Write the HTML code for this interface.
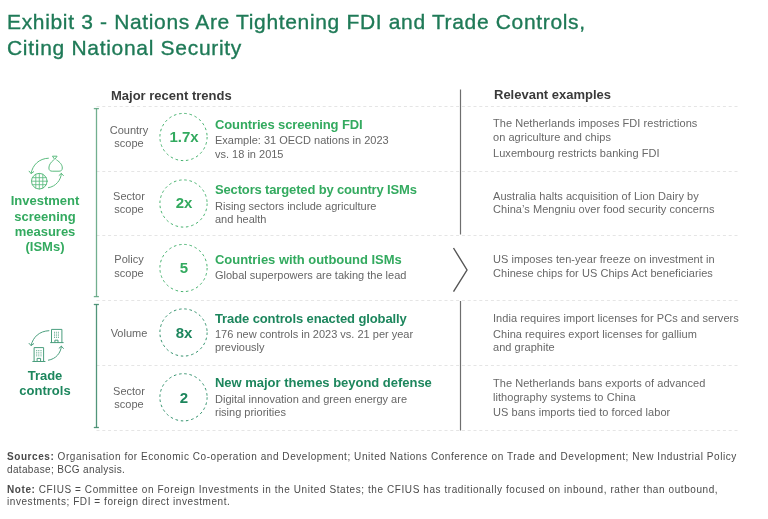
<!DOCTYPE html>
<html><head><meta charset="utf-8"><style>
html,body{margin:0;padding:0;background:#fff;}
body{width:768px;height:519px;position:relative;overflow:hidden;font-family:"Liberation Sans",sans-serif;}
.t{position:absolute;white-space:nowrap;will-change:transform;}
svg{position:absolute;left:0;top:0;}
</style></head><body>
<svg width="768" height="519" viewBox="0 0 768 519"><line x1="96.5" y1="106.5" x2="739" y2="106.5" stroke="#e5e5e5" stroke-width="1" stroke-dasharray="3 2.8"/><line x1="96.5" y1="171.5" x2="739" y2="171.5" stroke="#e5e5e5" stroke-width="1" stroke-dasharray="3 2.8"/><line x1="96.5" y1="235.5" x2="739" y2="235.5" stroke="#e5e5e5" stroke-width="1" stroke-dasharray="3 2.8"/><line x1="96.5" y1="300.5" x2="739" y2="300.5" stroke="#e5e5e5" stroke-width="1" stroke-dasharray="3 2.8"/><line x1="96.5" y1="365.5" x2="739" y2="365.5" stroke="#e5e5e5" stroke-width="1" stroke-dasharray="3 2.8"/><line x1="96.5" y1="430.5" x2="739" y2="430.5" stroke="#e5e5e5" stroke-width="1" stroke-dasharray="3 2.8"/><line x1="96.5" y1="108.5" x2="96.5" y2="296.6" stroke="#5aa27c" stroke-width="1.3" opacity="0.85"/><line x1="93.8" y1="108.6" x2="98.9" y2="108.6" stroke="#5aa27c" stroke-width="1.3" opacity="0.85"/><line x1="93.8" y1="296.6" x2="98.9" y2="296.6" stroke="#5aa27c" stroke-width="1.3" opacity="0.85"/><line x1="96.5" y1="304.5" x2="96.5" y2="427.5" stroke="#3f8a6c" stroke-width="1.3" opacity="0.9"/><line x1="93.8" y1="304.5" x2="98.9" y2="304.5" stroke="#3f8a6c" stroke-width="1.3" opacity="0.9"/><line x1="93.8" y1="427.5" x2="98.9" y2="427.5" stroke="#3f8a6c" stroke-width="1.3" opacity="0.9"/><line x1="460.5" y1="89.5" x2="460.5" y2="234.5" stroke="#6e6e6e" stroke-width="1.2"/><line x1="460.5" y1="301" x2="460.5" y2="430.5" stroke="#6e6e6e" stroke-width="1.2"/><polyline points="453.5,248 467,270 453.5,291.7" fill="none" stroke="#555" stroke-width="1.4"/><circle cx="183.5" cy="137" r="23.6" fill="none" stroke="#33aa5f" stroke-width="1" stroke-dasharray="2.5 2.8" opacity="0.9"/><circle cx="183.5" cy="203.5" r="23.6" fill="none" stroke="#33aa5f" stroke-width="1" stroke-dasharray="2.5 2.8" opacity="0.9"/><circle cx="183.5" cy="268" r="23.6" fill="none" stroke="#33aa5f" stroke-width="1" stroke-dasharray="2.5 2.8" opacity="0.9"/><circle cx="183.5" cy="332.5" r="23.6" fill="none" stroke="#1d865d" stroke-width="1" stroke-dasharray="2.5 2.8" opacity="0.9"/><circle cx="183.5" cy="397.3" r="23.6" fill="none" stroke="#1d865d" stroke-width="1" stroke-dasharray="2.5 2.8" opacity="0.9"/><g fill="none" stroke="#33aa5f" stroke-width="1" stroke-linecap="round" stroke-linejoin="round" opacity="0.8">
<circle cx="39.3" cy="181.2" r="7.8"/>
<path d="M35.8,174.2 V188.2 M39.3,173.4 V189 M42.8,174.2 V188.2 M32.3,177.7 H46.3 M31.5,181.2 H47.1 M32.3,184.7 H46.3" stroke-width="0.85"/>
<path d="M53.6,160 C50.5,162.5 48.9,165 48.9,168 C48.9,170.3 50.3,171.2 52.2,171.2 L59,171.2 C61,171.2 62.3,170.3 62.3,168 C62.3,165 60.5,162.5 56.7,160"/>
<path d="M52.8,156.2 L57.1,156.2 L55,159.1 Z"/>
<path d="M48.4,158.2 C39,158.5 32.5,165 31.1,173.4"/>
<path d="M29.1,171.2 L31.1,173.6 L33.7,171.7"/>
<path d="M48.4,187.7 C56,186.5 61,180 61.4,173.4"/>
<path d="M59.1,175.4 L61.4,173.4 L63.4,175.6"/>
</g><g fill="none" stroke="#1d865d" stroke-width="1" stroke-linecap="round" stroke-linejoin="round" opacity="0.8">
<path d="M51.5,342.6 V329.4 H61.9 V342.6 M50.6,342.6 H63.2 M54.9,342.6 V340.2 H58 V342.6"/><line x1="54.5" y1="331.8" x2="54.5" y2="338" stroke-dasharray="0.9 0.9" stroke-linecap="butt"/><line x1="56.4" y1="331.8" x2="56.4" y2="338" stroke-dasharray="0.9 0.9" stroke-linecap="butt"/><line x1="58.4" y1="331.8" x2="58.4" y2="338" stroke-dasharray="0.9 0.9" stroke-linecap="butt"/>
<path d="M34.1,361.5 V347.6 H43.6 V361.5 M32.8,361.5 H45 M37.1,361.5 V358.4 H40.6 V361.5"/><line x1="36.7" y1="350" x2="36.7" y2="356.4" stroke-dasharray="0.9 0.9" stroke-linecap="butt"/><line x1="38.8" y1="350" x2="38.8" y2="356.4" stroke-dasharray="0.9 0.9" stroke-linecap="butt"/><line x1="41" y1="350" x2="41" y2="356.4" stroke-dasharray="0.9 0.9" stroke-linecap="butt"/>
<path d="M48.9,330.7 C39.5,331 33,337 31.1,345.3"/>
<path d="M29.1,343.4 L31.1,345.6 L33.7,343.7"/>
<path d="M48.4,360.2 C56,359 60.8,353 61.4,346.3"/>
<path d="M59.1,348.2 L61.4,346.2 L63.4,348.4"/>
</g></svg>
<div class="t" style="left:7.4px;top:8.52px;font-size:21px;line-height:26px;font-weight:400;color:#1f7a57;letter-spacing:0.66px;-webkit-text-stroke:0.35px #1f7a57;">Exhibit 3 - Nations Are Tightening FDI and Trade Controls,</div><div class="t" style="left:7.4px;top:35.22px;font-size:21px;line-height:26px;font-weight:400;color:#1f7a57;letter-spacing:0.7px;-webkit-text-stroke:0.35px #1f7a57;">Citing National Security</div><div class="t" style="left:111px;top:87.50px;font-size:13px;line-height:16px;font-weight:700;color:#3a3a3a;letter-spacing:0px;">Major recent trends</div><div class="t" style="left:493.6px;top:87.00px;font-size:13px;line-height:16px;font-weight:700;color:#3a3a3a;letter-spacing:0px;">Relevant examples</div><div class="t" style="left:-155.5px;width:400px;text-align:center;top:192.80px;font-size:13px;line-height:16px;font-weight:700;color:#33aa5f;letter-spacing:0px;">Investment</div><div class="t" style="left:-155.5px;width:400px;text-align:center;top:209.00px;font-size:13px;line-height:16px;font-weight:700;color:#33aa5f;letter-spacing:0px;">screening</div><div class="t" style="left:-155.5px;width:400px;text-align:center;top:223.90px;font-size:13px;line-height:16px;font-weight:700;color:#33aa5f;letter-spacing:0px;">measures</div><div class="t" style="left:-155.5px;width:400px;text-align:center;top:238.50px;font-size:13px;line-height:16px;font-weight:700;color:#33aa5f;letter-spacing:0px;">(ISMs)</div><div class="t" style="left:-155px;width:400px;text-align:center;top:367.50px;font-size:13px;line-height:16px;font-weight:700;color:#1d865d;letter-spacing:0px;">Trade</div><div class="t" style="left:-155px;width:400px;text-align:center;top:383.00px;font-size:13px;line-height:16px;font-weight:700;color:#1d865d;letter-spacing:0px;">controls</div><div class="t" style="left:-71px;width:400px;text-align:center;top:122.59px;font-size:11px;line-height:14px;font-weight:400;color:#666666;letter-spacing:0px;">Country</div><div class="t" style="left:-71px;width:400px;text-align:center;top:136.19px;font-size:11px;line-height:14px;font-weight:400;color:#666666;letter-spacing:0px;">scope</div><div class="t" style="left:-71px;width:400px;text-align:center;top:189.29px;font-size:11px;line-height:14px;font-weight:400;color:#666666;letter-spacing:0px;">Sector</div><div class="t" style="left:-71px;width:400px;text-align:center;top:202.39px;font-size:11px;line-height:14px;font-weight:400;color:#666666;letter-spacing:0px;">scope</div><div class="t" style="left:-71px;width:400px;text-align:center;top:252.19px;font-size:11px;line-height:14px;font-weight:400;color:#666666;letter-spacing:0px;">Policy</div><div class="t" style="left:-71px;width:400px;text-align:center;top:265.89px;font-size:11px;line-height:14px;font-weight:400;color:#666666;letter-spacing:0px;">scope</div><div class="t" style="left:-71px;width:400px;text-align:center;top:325.89px;font-size:11px;line-height:14px;font-weight:400;color:#666666;letter-spacing:0px;">Volume</div><div class="t" style="left:-71px;width:400px;text-align:center;top:384.49px;font-size:11px;line-height:14px;font-weight:400;color:#666666;letter-spacing:0px;">Sector</div><div class="t" style="left:-71px;width:400px;text-align:center;top:397.19px;font-size:11px;line-height:14px;font-weight:400;color:#666666;letter-spacing:0px;">scope</div><div class="t" style="left:-16.5px;width:400px;text-align:center;top:127.10px;font-size:15px;line-height:19px;font-weight:700;color:#33aa5f;letter-spacing:0px;">1.7x</div><div class="t" style="left:-16.5px;width:400px;text-align:center;top:193.20px;font-size:15px;line-height:19px;font-weight:700;color:#33aa5f;letter-spacing:0px;">2x</div><div class="t" style="left:-16.5px;width:400px;text-align:center;top:258.20px;font-size:15px;line-height:19px;font-weight:700;color:#33aa5f;letter-spacing:0px;">5</div><div class="t" style="left:-16.5px;width:400px;text-align:center;top:322.70px;font-size:15px;line-height:19px;font-weight:700;color:#1d865d;letter-spacing:0px;">8x</div><div class="t" style="left:-16.5px;width:400px;text-align:center;top:387.50px;font-size:15px;line-height:19px;font-weight:700;color:#1d865d;letter-spacing:0px;">2</div><div class="t" style="left:215.4px;top:116.60px;font-size:13px;line-height:16px;font-weight:700;color:#33aa5f;letter-spacing:-0.12px;">Countries screening FDI</div><div class="t" style="left:215.4px;top:133.49px;font-size:11px;line-height:14px;font-weight:400;color:#666666;letter-spacing:0px;">Example: 31 OECD nations in 2023</div><div class="t" style="left:215.4px;top:146.79px;font-size:11px;line-height:14px;font-weight:400;color:#666666;letter-spacing:0px;">vs. 18 in 2015</div><div class="t" style="left:215.4px;top:182.30px;font-size:13px;line-height:16px;font-weight:700;color:#33aa5f;letter-spacing:-0.15px;">Sectors targeted by country ISMs</div><div class="t" style="left:215.4px;top:199.19px;font-size:11px;line-height:14px;font-weight:400;color:#666666;letter-spacing:0px;">Rising sectors include agriculture</div><div class="t" style="left:215.4px;top:211.69px;font-size:11px;line-height:14px;font-weight:400;color:#666666;letter-spacing:0px;">and health</div><div class="t" style="left:215.4px;top:252.10px;font-size:13px;line-height:16px;font-weight:700;color:#33aa5f;letter-spacing:-0.04px;">Countries with outbound ISMs</div><div class="t" style="left:215.4px;top:267.69px;font-size:11px;line-height:14px;font-weight:400;color:#666666;letter-spacing:0px;">Global superpowers are taking the lead</div><div class="t" style="left:215.4px;top:311.40px;font-size:13px;line-height:16px;font-weight:700;color:#1d865d;letter-spacing:-0.11px;">Trade controls enacted globally</div><div class="t" style="left:215.4px;top:327.09px;font-size:11px;line-height:14px;font-weight:400;color:#666666;letter-spacing:0px;">176 new controls in 2023 vs. 21 per year</div><div class="t" style="left:215.4px;top:340.49px;font-size:11px;line-height:14px;font-weight:400;color:#666666;letter-spacing:0px;">previously</div><div class="t" style="left:215.4px;top:375.40px;font-size:13px;line-height:16px;font-weight:700;color:#1d865d;letter-spacing:-0.02px;">New major themes beyond defense</div><div class="t" style="left:215.4px;top:391.79px;font-size:11px;line-height:14px;font-weight:400;color:#666666;letter-spacing:0px;">Digital innovation and green energy are</div><div class="t" style="left:215.4px;top:404.89px;font-size:11px;line-height:14px;font-weight:400;color:#666666;letter-spacing:0px;">rising priorities</div><div class="t" style="left:492.8px;top:116.19px;font-size:11px;line-height:14px;font-weight:400;color:#686868;letter-spacing:0.05px;">The Netherlands imposes FDI restrictions</div><div class="t" style="left:492.8px;top:129.89px;font-size:11px;line-height:14px;font-weight:400;color:#686868;letter-spacing:0.05px;">on agriculture and chips</div><div class="t" style="left:492.8px;top:146.09px;font-size:11px;line-height:14px;font-weight:400;color:#686868;letter-spacing:0.05px;">Luxembourg restricts banking FDI</div><div class="t" style="left:492.8px;top:188.79px;font-size:11px;line-height:14px;font-weight:400;color:#686868;letter-spacing:0.05px;">Australia halts acquisition of Lion Dairy by</div><div class="t" style="left:492.8px;top:202.49px;font-size:11px;line-height:14px;font-weight:400;color:#686868;letter-spacing:0.05px;">China’s Mengniu over food security concerns</div><div class="t" style="left:492.8px;top:251.99px;font-size:11px;line-height:14px;font-weight:400;color:#686868;letter-spacing:0.05px;">US imposes ten-year freeze on investment in</div><div class="t" style="left:492.8px;top:265.69px;font-size:11px;line-height:14px;font-weight:400;color:#686868;letter-spacing:0.05px;">Chinese chips for US Chips Act beneficiaries</div><div class="t" style="left:492.8px;top:310.59px;font-size:11px;line-height:14px;font-weight:400;color:#686868;letter-spacing:0.05px;">India requires import licenses for PCs and servers</div><div class="t" style="left:492.8px;top:326.89px;font-size:11px;line-height:14px;font-weight:400;color:#686868;letter-spacing:0.05px;">China requires export licenses for gallium</div><div class="t" style="left:492.8px;top:339.69px;font-size:11px;line-height:14px;font-weight:400;color:#686868;letter-spacing:0.05px;">and graphite</div><div class="t" style="left:492.8px;top:375.99px;font-size:11px;line-height:14px;font-weight:400;color:#686868;letter-spacing:0.05px;">The Netherlands bans exports of advanced</div><div class="t" style="left:492.8px;top:389.69px;font-size:11px;line-height:14px;font-weight:400;color:#686868;letter-spacing:0.05px;">lithography systems to China</div><div class="t" style="left:492.8px;top:404.99px;font-size:11px;line-height:14px;font-weight:400;color:#686868;letter-spacing:0.05px;">US bans imports tied to forced labor</div><div class="t" style="left:7px;top:451.33px;font-size:10px;line-height:12px;font-weight:400;color:#4a4a4a;letter-spacing:0.56px;"><b>Sources:</b> Organisation for Economic Co-operation and Development; United Nations Conference on Trade and Development; New Industrial Policy</div><div class="t" style="left:7px;top:463.53px;font-size:10px;line-height:12px;font-weight:400;color:#4a4a4a;letter-spacing:0.35px;">database; BCG analysis.</div><div class="t" style="left:7px;top:483.93px;font-size:10px;line-height:12px;font-weight:400;color:#4a4a4a;letter-spacing:0.58px;"><b>Note:</b> CFIUS = Committee on Foreign Investments in the United States; the CFIUS has traditionally focused on inbound, rather than outbound,</div><div class="t" style="left:7px;top:495.53px;font-size:10px;line-height:12px;font-weight:400;color:#4a4a4a;letter-spacing:0.56px;">investments; FDI = foreign direct investment.</div>
</body></html>
